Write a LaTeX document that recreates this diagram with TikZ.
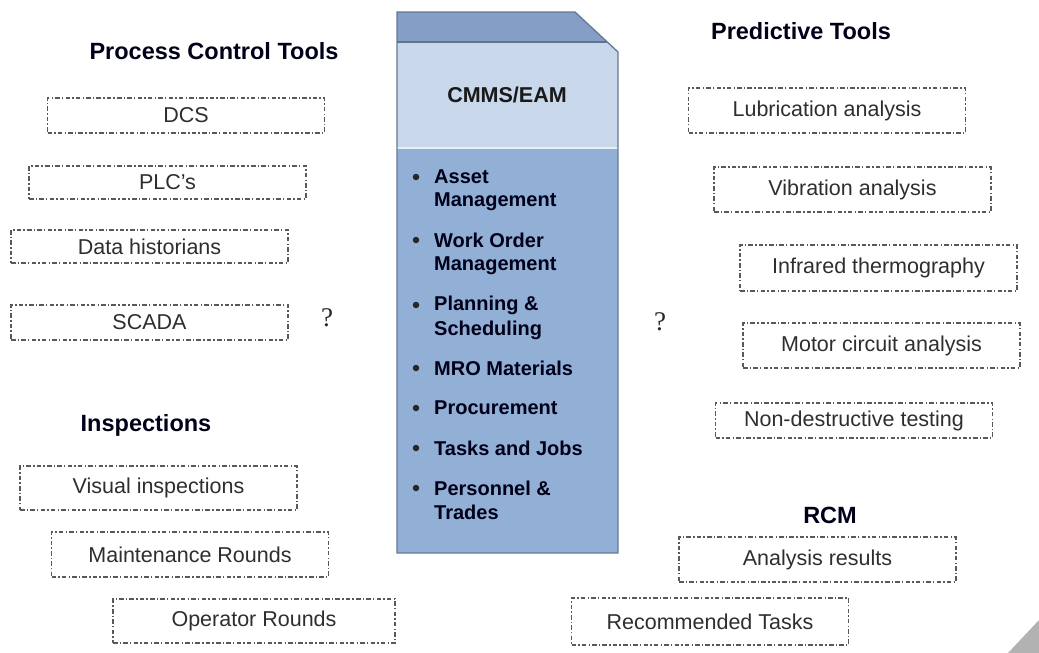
\documentclass[tikz,border=0pt]{standalone}
\usepackage{fontspec}
\setmainfont{Liberation Sans}
\newfontfamily\qfont{Liberation Serif}
\begin{document}
\begin{tikzpicture}[x=1pt,y=-1pt,
  toolbox/.style={draw=black!65, line width=1.1pt,
    dash pattern=on 4.5pt off 2.2pt on 1.4pt off 2.2pt,
    minimum width=277pt, minimum height=#1, inner sep=0pt,
    font=\fontsize{21.5}{24}\selectfont, text=black!82},
  toolbox/.default=45pt,
  grouptitle/.style={font=\bfseries\fontsize{23.5}{26}\selectfont, text=black!90!blue},
  qmark/.style={font=\qfont\fontsize{27}{30}\selectfont, text=black!85},
  bdot/.style={circle, fill=black!85, inner sep=0pt, minimum size=6.5pt},
  bitem/.style={anchor=west, inner sep=0pt, text=black!90!blue,
    font=\bfseries\fontsize{20}{24}\selectfont}]
\useasboundingbox (0,0) rectangle (1039,653);

% central CMMS/EAM block with chamfered corner
\begin{scope}
  \clip (397,12) -- (575,12) -- (618,52) -- (618,553) -- (397,553) -- cycle;
  \fill[fill={rgb,255:red,132;green,158;blue,198}] (397,12) rectangle (618,42);
  \fill[fill={rgb,255:red,200;green,215;blue,234}] (397,42) rectangle (618,147);
  \fill[fill={rgb,255:red,146;green,175;blue,214}] (397,147) rectangle (618,553);
  \draw[line width=1.4pt, draw={rgb,255:red,95;green,115;blue,142}] (397,42) -- (618,42);
  \draw[line width=1.2pt, draw={rgb,255:red,230;green,238;blue,246}] (397,148) -- (618,148);
\end{scope}
\draw[line width=1.3pt, draw={rgb,255:red,100;green,120;blue,146}]
  (397,12) -- (575,12) -- (618,52) -- (618,553) -- (397,553) -- cycle;

\node[font=\bfseries\fontsize{21.5}{24}\selectfont, text=black!90] (cmms) at (507,95) {CMMS/EAM};

% bullet list inside the block
\foreach \n/\y in {b1/177, b2/240, b3/305, b4/368, b5/408, b6/448, b7/488}
  \node[bdot] (\n dot) at (416,\y) {};
\node[bitem] (b1) at (434,177) {Asset};
\node[bitem] (b1x) at (434,202) {Management};
\node[bitem] (b2) at (434,240) {Work Order};
\node[bitem] (b2x) at (434,266) {Management};
\node[bitem] (b3) at (434,305) {Planning \&};
\node[bitem] (b3x) at (434,330) {Scheduling};
\node[bitem] (b4) at (434,368) {MRO Materials};
\node[bitem] (b5) at (434,408) {Procurement};
\node[bitem] (b6) at (434,448) {Tasks and Jobs};
\node[bitem] (b7) at (434,488) {Personnel \&};
\node[bitem] (b7x) at (434,512) {Trades};

% process control tools
\node[grouptitle] (pct) at (214,51) {Process Control Tools};
\node[toolbox=35pt] (dcs)  at (186,115.5) {DCS};
\node[toolbox=33pt] (plc)  at (167.5,182.5) {PLC's};
\node[toolbox=33pt] (hist) at (149.5,246.5) {Data historians};
\node[toolbox=35pt] (scada) at (149.5,322.5) {SCADA};
\node[qmark] (q1) at (327,318) {?};

% inspections
\node[grouptitle] (insp) at (146,425) {Inspections};
\node[toolbox=44pt] (vis)  at (158.5,488) {Visual inspections};
\node[toolbox=45pt] (mrnd) at (190,554.5) {Maintenance Rounds};
\node[toolbox=44pt, minimum width=282pt] (ornd) at (254,621) {Operator Rounds};

% predictive tools
\node[grouptitle] (pred) at (801,31) {Predictive Tools};
\node[toolbox=45pt] (lub) at (827,110.5) {Lubrication analysis};
\node[toolbox=45pt] (vib) at (852.5,189.5) {Vibration analysis};
\node[toolbox=46pt] (ir)  at (878.5,268) {Infrared thermography};
\node[toolbox=45pt] (mca) at (881.5,345.5) {Motor circuit analysis};
\node[toolbox=35pt] (ndt) at (854,420.5) {Non-destructive testing};
\node[qmark] (q2) at (660,322) {?};

% RCM
\node[grouptitle] (rcm) at (830,515) {RCM};
\node[toolbox=45pt] (ares) at (817.5,559.5) {Analysis results};
\node[toolbox=47pt] (rtask) at (710,621.5) {Recommended Tasks};

% page corner
\fill[black!30] (1008,653) -- (1039,620) -- (1039,653) -- cycle;
\end{tikzpicture}
\end{document}
